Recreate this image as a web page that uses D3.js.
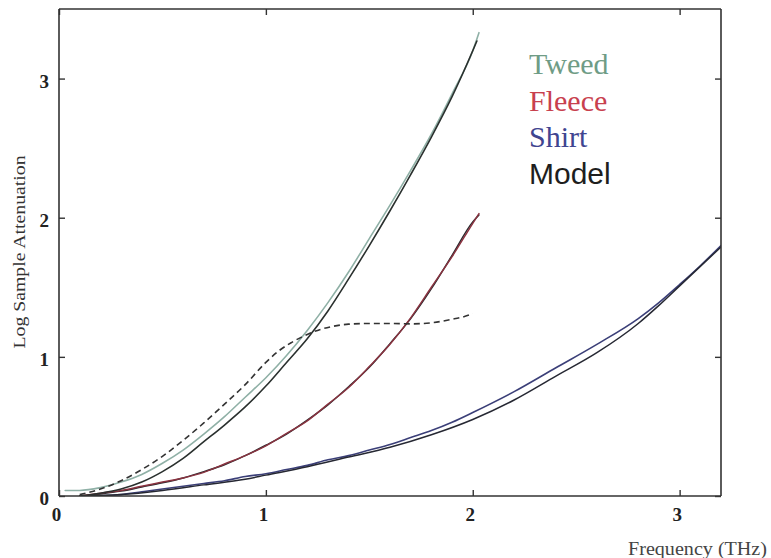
<!DOCTYPE html>
<html><head><meta charset="utf-8">
<script src="https://cdn.jsdelivr.net/npm/d3@7"></script>
<style>
html,body{margin:0;padding:0;background:#fff;}
svg{display:block;}
.serif{font-family:"Liberation Serif","Times New Roman","DejaVu Serif",serif;}
.sans{font-family:"Liberation Sans",Arial,"DejaVu Sans",sans-serif;}
</style></head>
<body>
<svg id="chart" width="771" height="558"></svg>
<script>
// ---- data (frequency in THz, log sample attenuation) ----
const tweedF   = [0.03,0.1,0.2,0.3,0.4,0.5,0.6,0.7,0.8,0.9,1.0,1.1,1.2,1.3,1.4,1.5,1.6,1.7,1.8,1.9,2.0,2.03];
const tweedY   = [0.04,0.04,0.06,0.1,0.155,0.235,0.33,0.445,0.57,0.71,0.85,1.01,1.19,1.39,1.61,1.85,2.09,2.34,2.6,2.89,3.2,3.33];
const tweedModelF = [0.1,0.2,0.3,0.4,0.5,0.6,0.7,0.8,0.9,1.0,1.1,1.2,1.3,1.4,1.5,1.6,1.7,1.8,1.9,2.0,2.02];
const tweedModelY = [0.0,0.02,0.05,0.1,0.175,0.27,0.39,0.51,0.64,0.79,0.96,1.13,1.33,1.56,1.8,2.05,2.31,2.58,2.87,3.2,3.27];
const fleeceF  = [0.1,0.2,0.3,0.4,0.5,0.6,0.7,0.8,0.9,1.0,1.1,1.2,1.3,1.4,1.5,1.6,1.7,1.8,1.9,2.0,2.03];
const fleeceY  = [0.0,0.02,0.04,0.07,0.1,0.13,0.17,0.23,0.29,0.36,0.45,0.54,0.66,0.78,0.93,1.09,1.28,1.5,1.72,1.96,2.03];
const fleeceModelY = [0.0,0.015,0.035,0.065,0.095,0.13,0.175,0.225,0.29,0.365,0.445,0.545,0.655,0.785,0.925,1.095,1.275,1.49,1.73,1.97,2.02];
const shirtF   = [0.2,0.3,0.4,0.5,0.6,0.7,0.8,0.9,1.0,1.1,1.2,1.3,1.4,1.5,1.6,1.7,1.8,1.9,2.0,2.2,2.4,2.6,2.8,2.9,3.0,3.1,3.2];
const shirtY   = [0.0,0.01,0.03,0.05,0.07,0.09,0.11,0.14,0.16,0.19,0.22,0.26,0.29,0.33,0.37,0.42,0.47,0.53,0.6,0.75,0.92,1.09,1.275,1.39,1.52,1.655,1.8];
const shirtModelF = [0.1,0.3,0.5,0.7,0.9,1.0,1.2,1.4,1.6,1.8,2.0,2.2,2.4,2.6,2.8,2.9,3.0,3.1,3.2];
const shirtModelY = [0.0,0.01,0.04,0.08,0.12,0.15,0.21,0.28,0.35,0.44,0.55,0.69,0.86,1.03,1.24,1.37,1.51,1.65,1.79];
const dashF    = [0.1,0.2,0.3,0.4,0.5,0.6,0.7,0.8,0.9,1.0,1.06,1.12,1.17,1.23,1.31,1.4,1.5,1.6,1.7,1.8,1.9,1.96,2.0];
const dashY    = [0.01,0.05,0.11,0.19,0.285,0.4,0.525,0.66,0.8,0.96,1.04,1.1,1.14,1.18,1.215,1.235,1.24,1.24,1.237,1.245,1.27,1.29,1.31];
const xTicks   = [0,1,2,3];
const yTicks   = [0,1,2,3];
const legendLabels = ["Tweed","Fleece","Shirt","Model"];

// ---- layout ----
const svg = d3.select("#chart");
const L = 59, R = 721, T = 9, B = 496;
const x = d3.scaleLinear().domain([0,3.2]).range([L,R]);
const y = d3.scaleLinear().domain([0,3.5]).range([B,T]);

svg.append("defs").append("clipPath").attr("id","clip")
  .append("rect").attr("x",L).attr("y",T).attr("width",R-L).attr("height",B-T);

const zip = (fs, ys) => fs.map((f,i)=>[f, ys[i]]);
const line = d3.line().x(d=>x(d[0])).y(d=>y(d[1])).curve(d3.curveMonotoneX);
const plot = svg.append("g").attr("clip-path","url(#clip)");

function draw(data, color, w, dash) {
  const p = plot.append("path").datum(data).attr("d", line)
    .attr("fill","none").attr("stroke",color).attr("stroke-width",w)
    .attr("stroke-linejoin","round").attr("stroke-linecap","round");
  if (dash) p.attr("stroke-dasharray", dash).attr("stroke-linecap","butt");
}

draw(zip(shirtF, shirtY), "#3b3f78", 1.6);
draw(zip(shirtModelF, shirtModelY), "#262833", 1.5);
draw(zip(fleeceF, fleeceModelY), "#2a2a2e", 1.5);
draw(zip(fleeceF, fleeceY), "#8a3340", 1.5);
draw(zip(tweedF, tweedY), "#8fb0a6", 1.6);
draw(zip(tweedModelF, tweedModelY), "#2a302e", 1.6);
draw(zip(dashF, dashY), "#333", 1.6, "6,4");

// ---- axes box ----
const axisColor = "#333";
const xb = svg.append("g").attr("transform",`translate(0,${B})`)
  .call(d3.axisBottom(x).tickValues(xTicks).tickSize(-6).tickPadding(12).tickFormat(d3.format("d")));
const xt = svg.append("g").attr("transform",`translate(0,${T})`)
  .call(d3.axisTop(x).tickValues(xTicks).tickSize(-6).tickFormat(""));
const yl = svg.append("g").attr("transform",`translate(${L},0)`)
  .call(d3.axisLeft(y).tickValues(yTicks).tickSize(-6).tickPadding(6).tickFormat(d3.format("d")));
const yr = svg.append("g").attr("transform",`translate(${R},0)`)
  .call(d3.axisRight(y).tickValues(yTicks).tickSize(-6).tickFormat(""));
[xb,xt,yl,yr].forEach(g=>{
  g.attr("font-family",null);
  g.select(".domain").attr("stroke",axisColor).attr("stroke-width",1.6);
  g.selectAll(".tick line").attr("stroke",axisColor).attr("stroke-width",1.4);
  g.selectAll("text").attr("class","serif")
    .style("font-size","19px").style("font-weight","bold").attr("fill","#222");
});
xb.selectAll(".domain").attr("d",`M${L},0H${R}`);
xt.selectAll(".domain").attr("d",`M${L},0H${R}`);
yl.selectAll(".domain").attr("d",`M0,${B}V${T}`);
yr.selectAll(".domain").attr("d",`M0,${B}V${T}`);
xb.selectAll(".tick text").attr("dx",-3);
yl.selectAll(".tick text").attr("dx",-4).attr("dy","0.45em");

// ---- axis labels ----
svg.append("text").attr("class","serif").attr("transform",`translate(25,${252}) rotate(-90)`)
  .attr("text-anchor","middle").style("font-size","17px").attr("fill","#333")
  .attr("textLength",193).attr("lengthAdjust","spacingAndGlyphs")
  .text("Log Sample Attenuation");
svg.append("text").attr("class","serif").attr("x",628).attr("y",555)
  .style("font-size","18px").attr("fill","#444")
  .attr("textLength",139).attr("lengthAdjust","spacingAndGlyphs")
  .text("Frequency (THz)");

// ---- legend ----
const legendColors = ["#6f9c86","#c8404e","#3f4590","#1e1e1e"];
const legendClass = ["serif","serif","serif","sans"];
const legendY = d3.scalePoint().domain(legendLabels).range([74,184]);
svg.append("g").selectAll("text").data(legendLabels).join("text")
  .attr("class",(d,i)=>legendClass[i])
  .attr("x",529).attr("y",d=>legendY(d))
  .style("font-size","30px")
  .attr("fill",(d,i)=>legendColors[i]).text(d=>d);
</script>
</body></html>
